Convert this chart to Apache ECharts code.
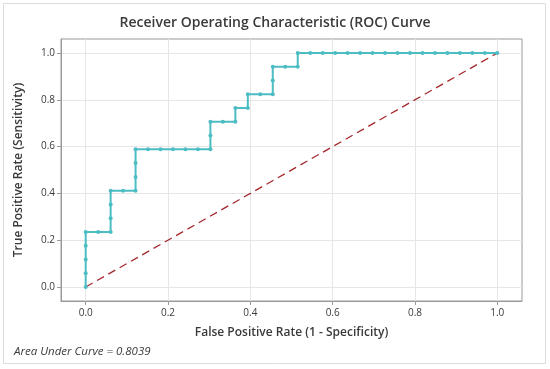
<!DOCTYPE html>
<html>
<head>
<meta charset="utf-8">
<script src="https://cdn.jsdelivr.net/npm/echarts@6/dist/echarts.min.js"></script>
<style>
html,body{margin:0;padding:0;background:#fff;}
#chart{width:550px;height:369px;}
</style>
</head>
<body>
<div id="chart"></div>
<script>
// ROC curve points
var fpr = [0, 0, 0, 0, 0, 0.0303, 0.0606, 0.0606, 0.0606, 0.0606, 0.0909, 0.1212, 0.1212, 0.1212, 0.1212,
  0.1515, 0.1818, 0.2121, 0.2424, 0.2727, 0.3030, 0.3030, 0.3030, 0.3333, 0.3636, 0.3636, 0.3939, 0.3939,
  0.4242, 0.4545, 0.4545, 0.4545, 0.4848, 0.5152, 0.5152, 0.5455, 0.5758, 0.6061, 0.6364, 0.6667, 0.6970,
  0.7273, 0.7576, 0.7879, 0.8182, 0.8485, 0.8788, 0.9091, 0.9394, 0.9697, 1.0];
var tpr = [0, 0.0588, 0.1176, 0.1765, 0.2353, 0.2353, 0.2353, 0.2941, 0.3529, 0.4118, 0.4118, 0.4118, 0.4706, 0.5294, 0.5882,
  0.5882, 0.5882, 0.5882, 0.5882, 0.5882, 0.5882, 0.6471, 0.7059, 0.7059, 0.7059, 0.7647, 0.7647, 0.8235,
  0.8235, 0.8235, 0.8824, 0.9412, 0.9412, 0.9412, 1.0, 1.0, 1.0, 1.0, 1.0, 1.0, 1.0,
  1.0, 1.0, 1.0, 1.0, 1.0, 1.0, 1.0, 1.0, 1.0, 1.0];
var chanceX = [0, 1];
var chanceY = [0, 1];
var tickValues = [0, 0.2, 0.4, 0.6, 0.8, 1.0];
var titleText = 'Receiver Operating Characteristic (ROC) Curve';
var xName = 'False Positive Rate (1 - Specificity)';
var yName = 'True Positive Rate (Sensitivity)';
var aucText = 'Area Under Curve = 0.8039';

var rocData = fpr.map(function (x, i) { return [x, tpr[i]]; });
var chanceData = chanceX.map(function (x, i) { return [x, chanceY[i]]; });

var font = 'Open Sans';
var txt = '#3a3a3a';
var chart = echarts.init(document.getElementById('chart'), null, { renderer: 'canvas' });

function axisCommon(name, gap) {
  return {
    type: 'value',
    min: -0.06,
    max: 1.06,
    name: name,
    nameLocation: 'middle',
    nameGap: gap,
    nameTextStyle: { fontFamily: font, fontSize: 12, fontWeight: 600, color: txt },
    axisLine: { show: true, onZero: false, lineStyle: { color: '#9a9a9a', width: 1 } },
    axisTick: { show: true, length: 4, customValues: tickValues, lineStyle: { color: '#9a9a9a' } },
    axisLabel: {
      customValues: tickValues,
      fontFamily: font, fontSize: 10, color: txt,
      formatter: function (v) { return v.toFixed(1); }
    },
    splitLine: { show: true, lineStyle: { color: '#e6e6e6', width: 1 } }
  };
}

var xa = axisCommon(xName, 26);
xa.axisLabel.margin = 7;
var ya = axisCommon(yName, 36);
ya.axisLabel.margin = 6;

chart.setOption({
  animation: false,
  backgroundColor: '#ffffff',
  title: {
    text: titleText,
    left: 'center',
    top: 11,
    textStyle: { fontFamily: font, fontSize: 14, fontWeight: 600, color: txt }
  },
  grid: {
    left: 61, right: 28, top: 39, bottom: 68,
    show: true, borderColor: '#9a9a9a', borderWidth: 1, backgroundColor: 'transparent'
  },
  xAxis: xa,
  yAxis: ya,
  graphic: [
    {
      type: 'rect', shape: { x: 3.5, y: 3.5, width: 542, height: 360 },
      style: { fill: 'none', stroke: '#dcdcdc', lineWidth: 1 }, silent: true, z: -1
    },
    {
      type: 'text', left: 14, top: 346,
      style: { text: aucText, fontFamily: font, fontSize: 11.5, fontStyle: 'italic', fill: txt }
    }
  ],
  series: [
    {
      type: 'line',
      data: chanceData,
      symbol: 'none',
      lineStyle: { color: '#a3282c', width: 1.3, type: [8, 5] },
      z: 2
    },
    {
      type: 'line',
      data: rocData,
      symbol: 'circle',
      symbolSize: 4,
      itemStyle: { color: '#4dbdc4' },
      lineStyle: { color: '#4dbdc4', width: 2 },
      z: 3
    }
  ]
});
</script>
</body>
</html>
